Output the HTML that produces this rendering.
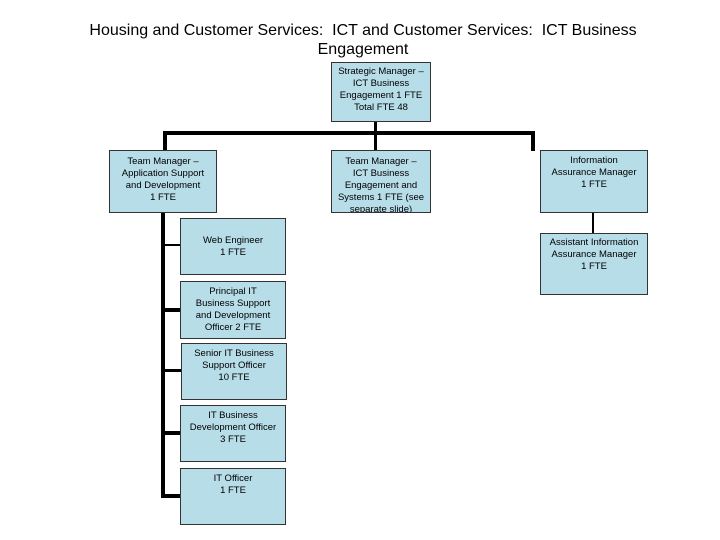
<!DOCTYPE html>
<html><head><style>
body{margin:0;width:720px;height:540px;background:#fff;position:relative;overflow:hidden;font-family:"Liberation Sans",Arial,sans-serif;}
.t{position:absolute;left:0;width:726px;text-align:center;font-size:16px;line-height:19px;top:21px;color:#000;}
.b{position:absolute;background:#b7dde8;border:1px solid #333;box-sizing:border-box;font-size:9.5px;line-height:12px;text-align:center;color:#000;padding-top:4px;overflow:hidden;}
.l{position:absolute;background:#000;}
</style></head><body>
<div class="t">Housing and Customer Services:&nbsp; ICT and Customer Services:&nbsp; ICT Business<br>Engagement</div>

<div class="l" style="left:374px;top:122px;width:3px;height:30px"></div>
<div class="l" style="left:163px;top:131px;width:372px;height:4px"></div>
<div class="l" style="left:163px;top:131px;width:4px;height:20px"></div>
<div class="l" style="left:531px;top:131px;width:4px;height:20px"></div>
<div class="l" style="left:592px;top:213px;width:2px;height:20px"></div>
<div class="l" style="left:161px;top:213px;width:4px;height:285px"></div>
<div class="l" style="left:161px;top:244px;width:19px;height:2px"></div>
<div class="l" style="left:161px;top:308px;width:19px;height:4px"></div>
<div class="l" style="left:161px;top:369px;width:20px;height:3px"></div>
<div class="l" style="left:161px;top:431px;width:19px;height:4px"></div>
<div class="l" style="left:161px;top:494px;width:19px;height:4px"></div>

<div class="b" style="left:331px;top:62px;width:100px;height:60px;padding-top:3px">Strategic Manager –<br>ICT Business<br>Engagement 1 FTE<br>Total FTE 48</div>
<div class="b" style="left:109px;top:150px;width:108px;height:63px;padding-top:5px">Team Manager –<br>Application Support<br>and Development<br>1 FTE</div>
<div class="b" style="left:331px;top:150px;width:100px;height:63px;padding-top:5px">Team Manager –<br>ICT Business<br>Engagement and<br>Systems 1 FTE (see<br>separate slide)</div>
<div class="b" style="left:540px;top:150px;width:108px;height:63px;padding-top:4px">Information<br>Assurance Manager<br>1 FTE</div>
<div class="b" style="left:540px;top:233px;width:108px;height:62px;padding-top:3px">Assistant Information<br>Assurance Manager<br>1 FTE</div>
<div class="b" style="left:180px;top:218px;width:106px;height:57px;padding-top:16px">Web Engineer<br>1 FTE</div>
<div class="b" style="left:180px;top:281px;width:106px;height:58px;padding-top:4px">Principal IT<br>Business Support<br>and Development<br>Officer 2 FTE</div>
<div class="b" style="left:181px;top:343px;width:106px;height:57px;padding-top:4px">Senior IT Business<br>Support Officer<br>10 FTE</div>
<div class="b" style="left:180px;top:405px;width:106px;height:57px;padding-top:4px">IT Business<br>Development Officer<br>3 FTE</div>
<div class="b" style="left:180px;top:468px;width:106px;height:57px;padding-top:4px">IT Officer<br>1 FTE</div>
</body></html>
